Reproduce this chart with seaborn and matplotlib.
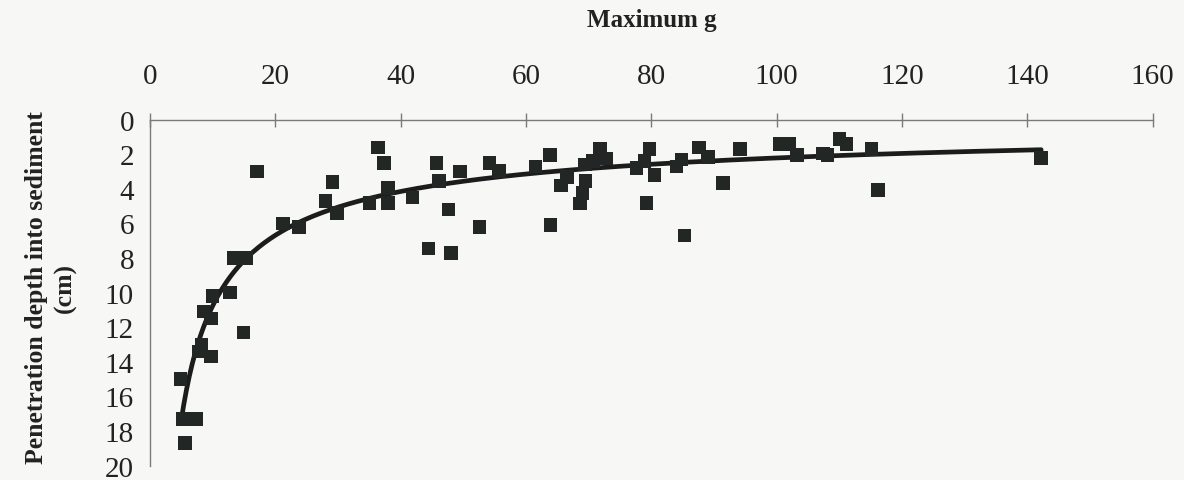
import numpy as np
import pandas as pd
import matplotlib
matplotlib.use("Agg")
import matplotlib.pyplot as plt
import seaborn as sns

# Values
max_g = [4.9, 5.3, 7.4, 5.6, 7.7, 8.2, 9.7, 8.5, 9.7, 10.0,
         12.8, 13.3, 15.4, 14.9, 17.1, 21.2, 23.8, 28.0, 29.1, 29.8,
         35.0, 36.4, 37.3, 38.0, 38.0, 41.9, 44.4, 45.7, 46.1, 47.6,
         48.0, 49.5, 52.6, 54.2, 55.7, 61.5, 63.8, 63.9, 65.6, 66.5,
         69.5, 69.0, 68.6, 69.4, 70.7, 71.8, 72.8, 77.6, 78.9, 79.7,
         80.5, 79.2, 84.0, 84.8, 85.3, 87.6, 89.0, 91.4, 94.1, 100.5,
         102.0, 103.2, 107.4, 108.1, 110.0, 111.1, 115.1, 116.2, 142.2]
depth_cm = [15.0, 17.3, 17.3, 18.7, 13.4, 13.0, 13.7, 11.1, 11.5, 10.2,
            10.0, 8.0, 8.0, 12.3, 3.0, 6.0, 6.2, 4.7, 3.6, 5.4,
            4.8, 1.6, 2.5, 3.95, 4.8, 4.5, 7.45, 2.5, 3.55, 5.2,
            7.7, 3.0, 6.2, 2.5, 2.95, 2.7, 2.05, 6.1, 3.8, 3.3,
            3.55, 4.25, 4.85, 2.6, 2.4, 1.7, 2.25, 2.8, 2.4, 1.7,
            3.2, 4.8, 2.7, 2.3, 6.7, 1.6, 2.15, 3.65, 1.7, 1.4,
            1.4, 2.05, 1.95, 2.05, 1.1, 1.4, 1.7, 4.05, 2.2]
x_ticks = [0, 20, 40, 60, 80, 100, 120, 140, 160]
y_ticks = [0, 2, 4, 6, 8, 10, 12, 14, 16, 18, 20]

df = pd.DataFrame({"max_g": max_g, "depth": depth_cm})

# Power-law trend line (like a spreadsheet "power" trendline)
slope, icpt = np.polyfit(np.log(df["max_g"]), np.log(df["depth"]), 1)
fit_x = np.linspace(df["max_g"].min(), df["max_g"].max(), 300)
fit = pd.DataFrame({"max_g": fit_x, "depth": np.exp(icpt) * fit_x ** slope})

sns.set_style("white")
plt.rcParams["font.family"] = ["Liberation Serif", "DejaVu Serif"]

bg = "#f7f8f6"
fig = plt.figure(figsize=(11.84, 4.81), dpi=100, facecolor=bg)
ax = fig.add_axes([0.1267, 0.03, 0.8469, 0.719])
ax.set_facecolor(bg)

sns.lineplot(data=fit, x="max_g", y="depth", ax=ax, color="#1c1c1c",
             linewidth=3.4, sort=False, zorder=3)
sns.scatterplot(data=df, x="max_g", y="depth", ax=ax, marker="s", s=95,
                color="#222624", edgecolor="none", zorder=4)

ax.set_xlim(0, 160)
ax.set_ylim(20, 0)
ax.set_xticks(x_ticks)
ax.set_yticks(y_ticks)

ax.xaxis.tick_top()
ax.xaxis.set_label_position("top")
for side in ["right", "bottom"]:
    ax.spines[side].set_visible(False)
for side in ["left", "top"]:
    ax.spines[side].set_color("#7a7a7a")
    ax.spines[side].set_linewidth(1.0)

ax.tick_params(axis="x", direction="inout", length=10, width=1, color="#7a7a7a",
               pad=17, labelsize=21, labelcolor="#222")
ax.tick_params(axis="y", direction="inout", length=11, width=1, color="#7a7a7a",
               pad=6, labelsize=21, labelcolor="#222")

ax.set_xlabel("Maximum g", fontsize=18, fontweight="bold", color="#222")
ax.xaxis.set_label_coords(0.5, 1.27)
ax.set_ylabel("")
fig.text(51 / 1184, 1 - 288 / 481, "Penetration depth into sediment\n(cm)",
         rotation=90, ha="center", va="center", fontsize=18.5,
         fontweight="bold", color="#222", linespacing=1.3)

fig.savefig("out.png", dpi=100, facecolor=bg)
